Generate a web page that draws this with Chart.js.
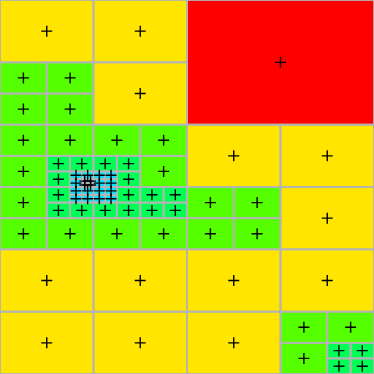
<!DOCTYPE html>
<html>
<head>
<meta charset="utf-8">
<script src="https://cdn.jsdelivr.net/npm/chart.js@4"></script>
<style>
  html, body { margin: 0; padding: 0; background: #ffffff; }
  #wrap { width: 374px; height: 374px; }
</style>
</head>
<body>
<div id="wrap"><canvas id="quadChart" width="374" height="374"></canvas></div>
<script>
// leaf cells of the quadtree: top-left corner and side length (domain x 0..4, y 0..6)
const cellX = [
    0, 1, 1, 0, 0.5, 0, 0.5,
    2,
    0, 0.5, 0, 0.5, 0.75, 0.5, 0.75, 0.875, 0.75, 0.875, 0.9375, 0.875, 0.9375,
    1, 1.5, 1.5, 1, 1.25, 1.25, 1, 1.125, 1, 1.125,
    0, 0, 0.5, 0.5, 0.5, 0.75, 0.75, 0.875, 0.75, 0.875,
    1, 1.5, 1.25, 1, 1.25, 1.5, 1.75, 1.5, 1.75, 1, 1.125, 1, 1.125,
    2, 3, 3, 2, 2.5, 2, 2.5,
    0, 1, 0, 1,
    2, 3, 2, 3, 3.5, 3, 3.5, 3.75, 3.5, 3.75
];
const cellY = [
    0, 0, 1, 1, 1, 1.5, 1.5,
    0,
    2, 2, 2.5, 2.5, 2.5, 2.75, 2.75, 2.75, 2.875, 2.875, 2.875, 2.9375, 2.9375,
    2, 2, 2.5, 2.5, 2.5, 2.75, 2.75, 2.75, 2.875, 2.875,
    3, 3.5, 3.5, 3, 3.25, 3.25, 3, 3, 3.125, 3.125,
    3.5, 3.5, 3, 3.25, 3.25, 3, 3, 3.25, 3.25, 3, 3, 3.125, 3.125,
    2, 2, 3, 3, 3, 3.5, 3.5,
    4, 4, 5, 5,
    4, 4, 5, 5, 5, 5.5, 5.5, 5.5, 5.75, 5.75
];
const cellSize = [
    1, 1, 1, 0.5, 0.5, 0.5, 0.5,
    2,
    0.5, 0.5, 0.5, 0.25, 0.25, 0.25, 0.125, 0.125, 0.125, 0.0625, 0.0625, 0.0625, 0.0625,
    0.5, 0.5, 0.5, 0.25, 0.25, 0.25, 0.125, 0.125, 0.125, 0.125,
    0.5, 0.5, 0.5, 0.25, 0.25, 0.25, 0.125, 0.125, 0.125, 0.125,
    0.5, 0.5, 0.25, 0.25, 0.25, 0.25, 0.25, 0.25, 0.25, 0.125, 0.125, 0.125, 0.125,
    1, 1, 1, 0.5, 0.5, 0.5, 0.5,
    1, 1, 1, 1,
    1, 1, 1, 0.5, 0.5, 0.5, 0.25, 0.25, 0.25, 0.25
];

const levelSizes = [2, 1, 0.5, 0.25, 0.125, 0.0625];
const levelColors = ['#ff0000', '#ffe500', '#55ff00', '#00ff55', '#00e5ff', '#2000ff'];

function colorFor(size) {
    const i = levelSizes.indexOf(size);
    return i >= 0 ? levelColors[i] : '#cccccc';
}

// cell centres, used for the "+" markers
const centres = cellX.map((x, i) => ({ x: x + cellSize[i] / 2, y: cellY[i] + cellSize[i] / 2 }));

// draws the cells through the chart scales, under the markers
const cellPlugin = {
    id: 'cells',
    beforeDatasetsDraw(chart) {
        const ctx = chart.ctx;
        const sx = chart.scales.x;
        const sy = chart.scales.y;
        ctx.save();
        cellX.forEach((x, i) => {
            const s = cellSize[i];
            const x0 = sx.getPixelForValue(x);
            const x1 = sx.getPixelForValue(x + s);
            const y0 = sy.getPixelForValue(cellY[i]);
            const y1 = sy.getPixelForValue(cellY[i] + s);
            ctx.fillStyle = colorFor(s);
            ctx.fillRect(x0, y0, x1 - x0, y1 - y0);
        });
        ctx.strokeStyle = '#b4b4b4';
        ctx.lineWidth = 1.8;
        cellX.forEach((x, i) => {
            const s = cellSize[i];
            const x0 = sx.getPixelForValue(x);
            const x1 = sx.getPixelForValue(x + s);
            const y0 = sy.getPixelForValue(cellY[i]);
            const y1 = sy.getPixelForValue(cellY[i] + s);
            ctx.strokeRect(x0, y0, x1 - x0, y1 - y0);
        });
        ctx.restore();
    }
};

const ctxQuad = document.getElementById('quadChart').getContext('2d');
new Chart(ctxQuad, {
    type: 'scatter',
    data: {
        datasets: [{
            data: centres,
            pointStyle: 'cross',
            pointRadius: 5.5,
            pointHoverRadius: 5.5,
            borderColor: '#000000',
            borderWidth: 1.4,
            backgroundColor: '#000000'
        }]
    },
    options: {
        responsive: false,
        animation: false,
        layout: { padding: 0, autoPadding: false },
        plugins: { legend: { display: false }, tooltip: { enabled: false } },
        scales: {
            x: { type: 'linear', min: 0, max: 4, display: false },
            y: { type: 'linear', min: 0, max: 6, reverse: true, display: false }
        }
    },
    plugins: [cellPlugin]
});
</script>
</body>
</html>
